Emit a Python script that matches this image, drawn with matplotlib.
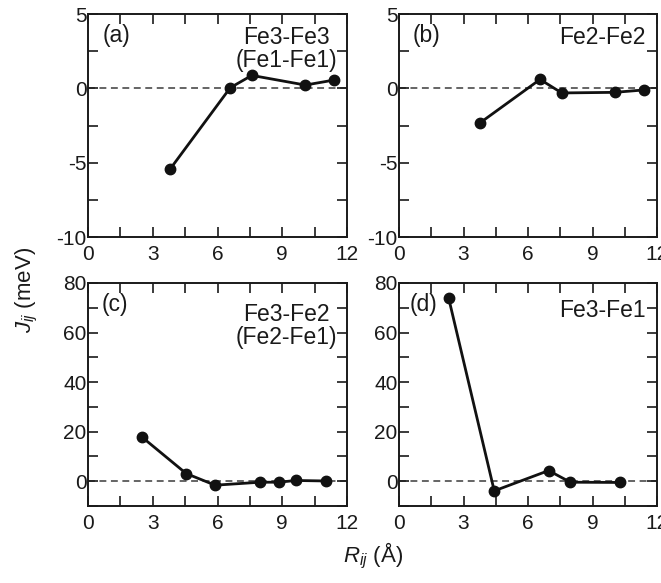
import matplotlib
matplotlib.use("Agg")
import matplotlib.pyplot as plt
from matplotlib.ticker import MultipleLocator, FixedLocator

plt.rcParams['font.family'] = ['Liberation Sans', 'DejaVu Sans']
plt.rcParams['axes.unicode_minus'] = False
plt.rcParams['mathtext.fontset'] = 'custom'
plt.rcParams['mathtext.it'] = 'Liberation Sans:italic'
plt.rcParams['mathtext.rm'] = 'Liberation Sans'

# Data
r_a = [3.80, 6.59, 7.59, 10.07, 11.41]
j_a = [-5.44, 0.04, 0.87, 0.22, 0.56]
r_b = [3.78, 6.56, 7.57, 10.03, 11.38]
j_b = [-2.31, 0.60, -0.31, -0.27, -0.11]
r_c = [2.49, 4.55, 5.89, 7.98, 8.85, 9.62, 11.01]
j_c = [17.9, 3.1, -1.6, -0.4, -0.4, 0.3, 0.1]
r_d = [2.31, 4.43, 6.96, 7.97, 10.29]
j_d = [73.9, -3.9, 4.3, -0.4, -0.5]

panel_labels = ["(a)", "(b)", "(c)", "(d)"]
pair_names = ["Fe3-Fe3\n(Fe1-Fe1)", "Fe2-Fe2", "Fe3-Fe2\n(Fe2-Fe1)", "Fe3-Fe1"]
series_r = [r_a, r_b, r_c, r_d]
series_j = [j_a, j_b, j_c, j_d]
x_ticks = [0, 3, 6, 9, 12]
y_ticks_top = [5, 0, -5, -10]
y_ticks_bot = [80, 60, 40, 20, 0]

W, H = 661, 583
fig = plt.figure(figsize=(W / 100, H / 100), dpi=100)

rects = [
    (88, 14, 347, 237),
    (399, 14, 657, 237),
    (88, 283, 347, 506),
    (399, 283, 657, 506),
]
ylims = [(-10, 5), (-10, 5), (-10, 80), (-10, 80)]
yticks = [y_ticks_top, y_ticks_top, y_ticks_bot, y_ticks_bot]
yminors = [2.5, 2.5, 10, 10]
lab_pos = [(0.058, 0.955), (0.052, 0.955), (0.052, 0.955), (0.040, 0.955)]
name_pos = [(0.962, 0.945), (0.955, 0.945), (0.962, 0.91), (0.955, 0.93)]

fs_tick = 15
fs_txt = 16.5
for i, (l, t, r, b) in enumerate(rects):
    ax = fig.add_axes([l / W, 1 - b / H, (r - l) / W, (b - t) / H])
    ax.axhline(0, color='#3a3a3a', lw=1.1, ls=(0, (4.5, 3)), zorder=1)
    ax.plot(series_r[i], series_j[i], color='#111111', lw=2.0, marker='o', ms=7.5, zorder=3)
    ax.set_xlim(0, 12)
    ax.set_ylim(*ylims[i])
    ax.xaxis.set_major_locator(FixedLocator(x_ticks))
    ax.xaxis.set_minor_locator(MultipleLocator(1.5))
    ax.yaxis.set_major_locator(FixedLocator(yticks[i]))
    ax.yaxis.set_minor_locator(MultipleLocator(yminors[i]))
    ax.tick_params(which='both', direction='in', top=True, right=True,
                   length=7, width=1.2, labelsize=fs_tick, colors='#1a1a1a')
    ax.tick_params(axis='x', pad=6)
    ax.tick_params(axis='y', pad=1)
    for s in ax.spines.values():
        s.set_linewidth(1.4)
        s.set_color('#1a1a1a')
    ax.text(lab_pos[i][0], lab_pos[i][1], panel_labels[i], transform=ax.transAxes,
            ha='left', va='top', fontsize=fs_txt, color='#1a1a1a')
    ax.text(name_pos[i][0], name_pos[i][1], pair_names[i], transform=ax.transAxes,
            ha='right', va='top', fontsize=fs_txt, linespacing=1.0,
            multialignment='center', color='#1a1a1a')

fig.text(27 / W, 1 - 290 / H, r'$J_{ij}$ (meV)', rotation=90, ha='center', va='center',
         fontsize=16, color='#1a1a1a')
fig.text(373 / W, 1 - 556 / H, r'$R_{ij}$ (Å)', ha='center', va='center',
         fontsize=16, color='#1a1a1a')

fig.savefig("out.png", dpi=100)
